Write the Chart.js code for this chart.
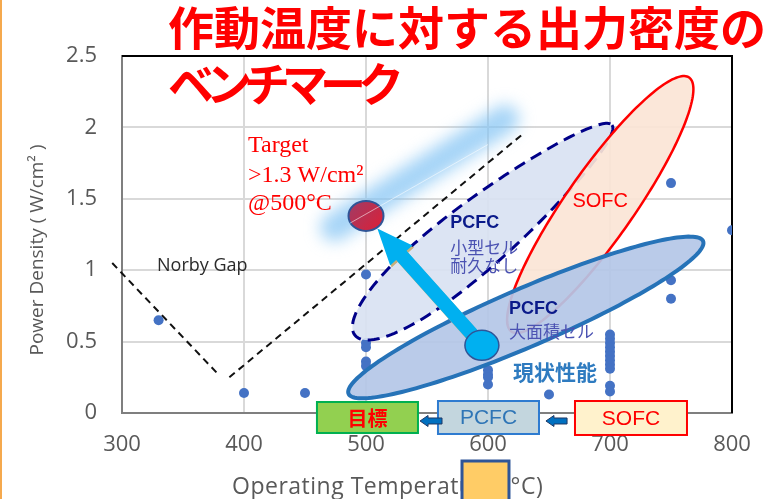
<!DOCTYPE html>
<html>
<head>
<meta charset="utf-8">
<script src="https://cdn.jsdelivr.net/npm/chart.js@4.4.1/dist/chart.umd.min.js"></script>
<style>
  html, body { margin: 0; padding: 0; background: #ffffff; }
  canvas { display: block; }
</style>
</head>
<body>
<canvas id="chart" width="773" height="499"></canvas>
<script>
// Measured cells: operating temperature (°C) and power density (W/cm²)
const tempsC = [
  330, 400, 450,
  500, 500, 500, 500, 500,
  600, 600, 600, 600,
  650,
  700, 700, 700, 700, 700, 700, 700, 700, 700, 700, 700,
  750, 750, 750,
  800
];
const powerWcm2 = [
  0.65, 0.14, 0.14,
  0.97, 0.49, 0.46, 0.36, 0.33,
  0.30, 0.27, 0.25, 0.20,
  0.13,
  0.55, 0.52, 0.49, 0.46, 0.43, 0.40, 0.37, 0.34, 0.31, 0.19, 0.15,
  1.61, 0.93, 0.80,
  1.28
];

// Axis ticks
const xTicks = [300, 400, 500, 600, 700, 800];
const yTicks = [0, 0.5, 1, 1.5, 2, 2.5];

// Norby gap guide lines [temperature, power]
const norbyLeft  = [[292, 1.05], [379, 0.27]];
const norbyRight = [[388, 0.25], [628, 1.95]];

// Development target and present large-cell performance
const targetTemp = 500;
const targetMin = 1.3;
const targetPower = 1.38;
const currentTemp = 595;
const currentPower = 0.474;

// Highlight band behind the target
const targetBand = [[474, 1.30], [614, 2.06]];
const targetGlint = [[487, 1.33], [600, 1.88]];

// Regions: centre [temperature, power], half-axes in px, tilt in degrees
const regionSmallPCFC = { c: [596.3, 1.28], a: 166, b: 33, tilt: -39.3, egg: 0.25 };
const regionSOFC      = { c: [692, 1.46],   a: 155, b: 34, tilt: -55,   egg: 0 };
const regionLargePCFC = { c: [631, 0.669],  a: 193, b: 29, tilt: -23.3, egg: 0 };

Chart.defaults.font.family = "'Open Sans', sans-serif";

const points = tempsC.map((t, i) => ({ x: t, y: powerWcm2[i] }));

function regionPath(ctx, cx, cy, r) {
  ctx.save();
  ctx.translate(cx, cy);
  ctx.rotate(r.tilt * Math.PI / 180);
  ctx.beginPath();
  const N = 180;
  for (let i = 0; i <= N; i++) {
    const t = (2 * Math.PI * i) / N;
    const px = r.a * Math.cos(t);
    const py = r.b * Math.sin(t) * (1 - r.egg * Math.cos(t));
    if (i === 0) ctx.moveTo(px, py); else ctx.lineTo(px, py);
  }
  ctx.closePath();
  ctx.restore();
}

function blockArrow(ctx, x0, y0, x1, y1, shaftHalf, headLen, headHalf) {
  const dx = x1 - x0, dy = y1 - y0, L = Math.hypot(dx, dy);
  const ux = dx / L, uy = dy / L, nx = -uy, ny = ux;
  const bx = x1 - ux * headLen, by = y1 - uy * headLen;
  ctx.beginPath();
  ctx.moveTo(x0 + nx * shaftHalf, y0 + ny * shaftHalf);
  ctx.lineTo(bx + nx * shaftHalf, by + ny * shaftHalf);
  ctx.lineTo(bx + nx * headHalf, by + ny * headHalf);
  ctx.lineTo(x1, y1);
  ctx.lineTo(bx - nx * headHalf, by - ny * headHalf);
  ctx.lineTo(bx - nx * shaftHalf, by - ny * shaftHalf);
  ctx.lineTo(x0 - nx * shaftHalf, y0 - ny * shaftHalf);
  ctx.closePath();
}

function spacedText(ctx, text, x, y, squeeze) {
  for (const ch of text) {
    ctx.fillText(ch, x, y);
    x += ctx.measureText(ch).width - squeeze;
  }
}

// Plot frame (top and right edges) drawn over the grid
const framePlugin = {
  id: 'frame',
  beforeDatasetsDraw(chart) {
    const { ctx, chartArea: a } = chart;
    ctx.save();
    ctx.strokeStyle = '#000000';
    ctx.lineWidth = 2;
    ctx.beginPath();
    ctx.moveTo(a.left, a.top);
    ctx.lineTo(a.right, a.top);
    ctx.lineTo(a.right, a.bottom);
    ctx.stroke();
    ctx.restore();
  }
};

// Regions, guides, target and labels on top of the measured points
const overlayPlugin = {
  id: 'overlay',
  afterDatasetsDraw(chart) {
    const { ctx, scales: { x, y } } = chart;
    const X = v => x.getPixelForValue(v);
    const Y = v => y.getPixelForValue(v);
    ctx.save();

    // blurred highlight band
    ctx.save();
    ctx.filter = 'blur(8px)';
    ctx.strokeStyle = 'rgba(130,196,244,0.72)';
    ctx.lineWidth = 28;
    ctx.lineCap = 'round';
    ctx.beginPath();
    ctx.moveTo(X(targetBand[0][0]), Y(targetBand[0][1]));
    ctx.lineTo(X(targetBand[1][0]), Y(targetBand[1][1]));
    ctx.stroke();
    ctx.restore();

    // Norby gap
    ctx.save();
    ctx.strokeStyle = '#111111';
    ctx.lineWidth = 2;
    ctx.setLineDash([7, 5]);
    for (const seg of [norbyLeft, norbyRight]) {
      ctx.beginPath();
      ctx.moveTo(X(seg[0][0]), Y(seg[0][1]));
      ctx.lineTo(X(seg[1][0]), Y(seg[1][1]));
      ctx.stroke();
    }
    ctx.restore();

    // small-cell PCFC region (dashed)
    regionPath(ctx, X(regionSmallPCFC.c[0]), Y(regionSmallPCFC.c[1]), regionSmallPCFC);
    ctx.fillStyle = 'rgba(216,225,242,0.9)';
    ctx.fill();
    ctx.save();
    ctx.setLineDash([12, 7]);
    ctx.strokeStyle = '#000088';
    ctx.lineWidth = 3;
    ctx.stroke();
    ctx.restore();

    // SOFC region
    regionPath(ctx, X(regionSOFC.c[0]), Y(regionSOFC.c[1]), regionSOFC);
    ctx.fillStyle = 'rgba(251,229,214,0.92)';
    ctx.fill();
    ctx.strokeStyle = '#FF0000';
    ctx.lineWidth = 2.5;
    ctx.stroke();

    // large-area PCFC region
    regionPath(ctx, X(regionLargePCFC.c[0]), Y(regionLargePCFC.c[1]), regionLargePCFC);
    ctx.fillStyle = 'rgba(180,199,231,0.92)';
    ctx.fill();
    ctx.strokeStyle = '#2673B8';
    ctx.lineWidth = 4;
    ctx.stroke();

    // region labels
    ctx.textBaseline = 'middle';
    ctx.textAlign = 'center';
    ctx.fillStyle = '#FF0000';
    ctx.font = "20px 'Liberation Sans', Arial, sans-serif";
    ctx.fillText('SOFC', X(regionSOFC.c[0]), Y(1.478));

    ctx.textAlign = 'left';
    ctx.fillStyle = '#0A1A8A';
    ctx.font = "bold 18px 'Liberation Sans', Arial, sans-serif";
    ctx.fillText('PCFC', X(569), Y(1.327));
    ctx.fillText('PCFC', X(617.2), Y(0.725));
    ctx.fillStyle = '#4B52B2';
    ctx.font = "17px 'Noto Sans CJK JP', sans-serif";
    ctx.fillText('小型セル', X(569), Y(1.162));
    ctx.fillText('耐久なし', X(569), Y(1.036));
    ctx.fillText('大面積セル', X(617.2), Y(0.567));
    ctx.fillStyle = '#2E7BC0';
    ctx.font = "bold 21px 'Noto Sans CJK JP', sans-serif";
    ctx.fillText('現状性能', X(620.5), Y(0.287));

    // improvement arrow from present performance to target
    const tx = X(targetTemp), ty = Y(targetPower);
    const cx = X(currentTemp), cy = Y(currentPower);
    const d = Math.hypot(tx - cx, ty - cy);
    const tipX = tx + (cx - tx) / d * 17, tipY = ty + (cy - ty) / d * 17;
    ctx.save();
    ctx.shadowColor = '#C8B07A';
    ctx.shadowOffsetX = 1.5;
    ctx.shadowOffsetY = 2;
    ctx.fillStyle = '#00B0F0';
    blockArrow(ctx, cx, cy, tipX, tipY, 7, 36, 15);
    ctx.fill();
    ctx.restore();

    // present performance marker
    ctx.beginPath();
    ctx.ellipse(cx, cy, 17, 15, 0, 0, Math.PI * 2);
    ctx.fillStyle = '#00B0F0';
    ctx.fill();
    ctx.strokeStyle = '#2F5597';
    ctx.lineWidth = 1.5;
    ctx.stroke();

    // target marker
    const g = ctx.createLinearGradient(tx - 14, ty - 12, tx + 14, ty + 12);
    g.addColorStop(0, '#A43A62');
    g.addColorStop(1, '#D8213A');
    ctx.beginPath();
    ctx.ellipse(tx, ty, 17.5, 15, 0, 0, Math.PI * 2);
    ctx.fillStyle = g;
    ctx.fill();
    ctx.strokeStyle = '#2F5597';
    ctx.lineWidth = 2;
    ctx.stroke();

    ctx.save();
    ctx.strokeStyle = 'rgba(255,255,255,0.55)';
    ctx.lineWidth = 1;
    ctx.beginPath();
    ctx.moveTo(X(targetGlint[0][0]), Y(targetGlint[0][1]));
    ctx.lineTo(X(targetGlint[1][0]), Y(targetGlint[1][1]));
    ctx.stroke();
    ctx.restore();

    // target text
    ctx.textAlign = 'left';
    ctx.textBaseline = 'alphabetic';
    ctx.fillStyle = '#FF0000';
    ctx.font = "24px 'Liberation Serif', 'Times New Roman', serif";
    ctx.fillText('Target', X(403.3), Y(1.828));
    ctx.fillText('>' + targetMin + ' W/cm²', X(403.3), Y(1.618));
    ctx.fillText('@' + targetTemp + '°C', X(403.3), Y(1.42));

    // Norby gap label
    ctx.fillStyle = '#2B2B2B';
    ctx.font = "18px 'Open Sans', sans-serif";
    ctx.fillText('Norby Gap', X(328.7), Y(0.994));

    ctx.restore();
  },

  afterDraw(chart) {
    const { ctx, scales: { x, y } } = chart;
    const X = v => x.getPixelForValue(v);
    const Y = v => y.getPixelForValue(v);
    ctx.save();

    // axis titles
    ctx.fillStyle = '#595959';
    ctx.textBaseline = 'alphabetic';
    ctx.textAlign = 'left';
    ctx.font = "23px 'Open Sans', sans-serif";
    if ('letterSpacing' in ctx) ctx.letterSpacing = '0.5px';
    ctx.fillText('Operating Temperature (°C)', 232, 494);
    if ('letterSpacing' in ctx) ctx.letterSpacing = '0px';

    ctx.save();
    ctx.translate(43, 250);
    ctx.rotate(-Math.PI / 2);
    ctx.textAlign = 'center';
    ctx.font = "19px 'Open Sans', sans-serif";
    ctx.fillText('Power Density ( W/cm² )', 0, 0);
    ctx.restore();

    // roadmap boxes along the temperature axis: SOFC -> PCFC -> target
    const boxes = [
      { text: '目標', t0: 459.8, t1: 542.6, p0: 0.077, p1: -0.14, fill: '#92D050', line: '#00B050', color: '#FF0000',
        font: "bold 20px 'Noto Sans CJK JP', sans-serif" },
      { text: 'PCFC', t0: 559, t1: 641.8, p0: 0.084, p1: -0.147, fill: '#C3D6DE', line: '#2E7BD0', color: '#2E75B6',
        font: "21px 'Liberation Sans', Arial, sans-serif" },
      { text: 'SOFC', t0: 671.3, t1: 763.1, p0: 0.084, p1: -0.154, fill: '#FFF2CC', line: '#FF0000', color: '#FF0000',
        font: "21px 'Liberation Sans', Arial, sans-serif" }
    ];
    for (const b of boxes) {
      const x0 = X(b.t0), x1 = X(b.t1), y0 = Y(b.p0), y1 = Y(b.p1);
      ctx.fillStyle = b.fill;
      ctx.fillRect(x0, y0, x1 - x0, y1 - y0);
      ctx.strokeStyle = b.line;
      ctx.lineWidth = 2;
      ctx.strokeRect(x0, y0, x1 - x0, y1 - y0);
      ctx.fillStyle = b.color;
      ctx.font = b.font;
      ctx.textAlign = 'center';
      ctx.textBaseline = 'middle';
      ctx.fillText(b.text, (x0 + x1) / 2, (y0 + y1) / 2 + 1);
    }

    // small arrows between boxes
    for (const seg of [[562.3, 544.3], [664.8, 647.5]]) {
      ctx.fillStyle = '#0070C0';
      ctx.strokeStyle = '#1F3864';
      ctx.lineWidth = 1;
      blockArrow(ctx, X(seg[0]), Y(-0.056), X(seg[1]), Y(-0.056), 3, 8, 5.5);
      ctx.fill();
      ctx.stroke();
    }

    // orange tab over the axis title
    ctx.fillStyle = '#FFCC66';
    ctx.fillRect(X(578.7), 461, X(617.2) - X(578.7), 45);
    ctx.strokeStyle = '#2F5597';
    ctx.lineWidth = 3;
    ctx.strokeRect(X(578.7), 461, X(617.2) - X(578.7), 45);

    // slide heading
    ctx.fillStyle = '#FF0000';
    ctx.textAlign = 'left';
    ctx.textBaseline = 'middle';
    ctx.font = "bold 46px 'Noto Sans CJK JP', sans-serif";
    ctx.fillText('作動温度に対する出力密度の', 168, 28);
    spacedText(ctx, 'ベンチマーク', 168, 84, 8);

    // left edge rule
    ctx.fillStyle = '#F5A94E';
    ctx.fillRect(0, 0, 2, chart.height);

    ctx.restore();
  }
};

new Chart(document.getElementById('chart'), {
  type: 'scatter',
  data: {
    datasets: [{
      data: points,
      backgroundColor: '#4472C4',
      borderWidth: 0,
      pointRadius: 5,
      pointHoverRadius: 5
    }]
  },
  options: {
    responsive: false,
    animation: false,
    devicePixelRatio: 1,
    layout: { padding: { top: 56, right: 41, left: 0, bottom: 0 } },
    plugins: { legend: { display: false }, tooltip: { enabled: false } },
    scales: {
      x: {
        type: 'linear', min: 300, max: 800,
        afterBuildTicks(s) { s.ticks = xTicks.map(v => ({ value: v })); },
        ticks: { padding: 19, color: '#595959', font: { size: 22 }, callback: v => String(v) },
        grid: { color: '#D9D9D9', lineWidth: 2, drawTicks: false },
        border: { color: '#7F7F7F', width: 2 },
        afterFit(s) { s.height = 86; }
      },
      y: {
        min: 0, max: 2.5,
        afterBuildTicks(s) { s.ticks = yTicks.map(v => ({ value: v })); },
        ticks: { padding: 25, color: '#595959', font: { size: 22 }, callback: v => String(v) },
        grid: { color: '#D9D9D9', lineWidth: 2, drawTicks: false },
        border: { color: '#7F7F7F', width: 2 },
        afterFit(s) { s.width = 122; }
      }
    }
  },
  plugins: [framePlugin, overlayPlugin]
});
</script>
</body>
</html>
